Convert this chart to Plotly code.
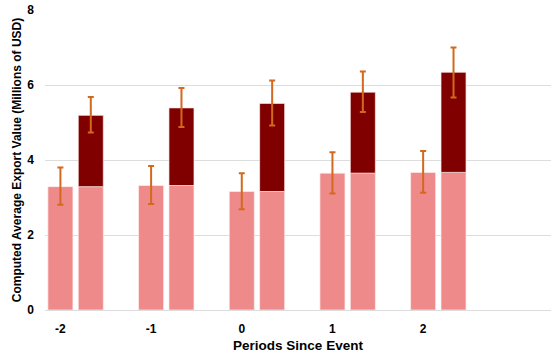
import plotly.graph_objects as go

periods = [-2, -1, 0, 1, 2]
tick_labels = ["-2", "-1", "0", "1", "2"]

# first bar (baseline)
base_values = [3.29, 3.32, 3.16, 3.65, 3.67]
base_err_plus = [0.51, 0.52, 0.49, 0.56, 0.57]
base_err_minus = [0.48, 0.49, 0.47, 0.54, 0.54]

# second bar: same base plus an additional stacked segment (total shown)
total_values = [5.19, 5.39, 5.51, 5.81, 6.34]
total_err_plus = [0.49, 0.53, 0.61, 0.55, 0.66]
total_err_minus = [0.46, 0.51, 0.59, 0.53, 0.67]

pink = "#EE8A8A"
dark = "#800000"
err_col = "#D2691E"
edge = "rgba(255,235,235,0.7)"

increments = [t - b for t, b in zip(total_values, base_values)]

fig = go.Figure()
fig.add_trace(go.Bar(
    x=periods, y=base_values, offset=-0.138, width=0.276,
    marker=dict(color=pink, line=dict(color=edge, width=1)),
    error_y=dict(type="data", array=base_err_plus, arrayminus=base_err_minus,
                 color=err_col, thickness=2, width=3),
    showlegend=False,
))
fig.add_trace(go.Bar(
    x=periods, y=base_values, offset=0.197, width=0.276,
    marker=dict(color=pink, line=dict(color=edge, width=1)),
    showlegend=False,
))
fig.add_trace(go.Bar(
    x=periods, y=increments, base=base_values, offset=0.197, width=0.276,
    marker=dict(color=dark, line=dict(color=edge, width=1)),
    error_y=dict(type="data", array=total_err_plus, arrayminus=total_err_minus,
                 color=err_col, thickness=2, width=3),
    showlegend=False,
))

font_family = "Liberation Sans, Arial, sans-serif"
fig.update_layout(
    barmode="overlay",
    width=551, height=358,
    margin=dict(l=45, r=0, t=10, b=48),
    paper_bgcolor="white", plot_bgcolor="white",
    font=dict(family=font_family, color="#000000"),
    xaxis=dict(
        range=[-2.17, 3.41], automargin=False,
        tickvals=periods, ticktext=tick_labels,
        tickfont=dict(size=12, family=font_family, weight="bold"),
        showgrid=False, zeroline=False, showline=False, ticks="",
        ticklabelstandoff=10,
        title=dict(text="<b>Periods Since Event</b>", font=dict(size=13.5), standoff=5),
    ),
    yaxis=dict(
        range=[0, 8], tickvals=[0, 2, 4, 6, 8], automargin=False,
        tickfont=dict(size=12, family=font_family, weight="bold"),
        showgrid=True, gridcolor="#DDDDDD", gridwidth=1,
        zeroline=True, zerolinecolor="#DDDDDD", zerolinewidth=1,
        showline=False, ticks="", ticklabelstandoff=10,
        title=dict(text="<b>Computed Average Export Value (Millions of USD)</b>",
                   font=dict(size=12), standoff=3),
    ),
)

fig.write_html("out.html", config={"displayModeBar": False},
               post_script="document.body.style.margin='0';")
